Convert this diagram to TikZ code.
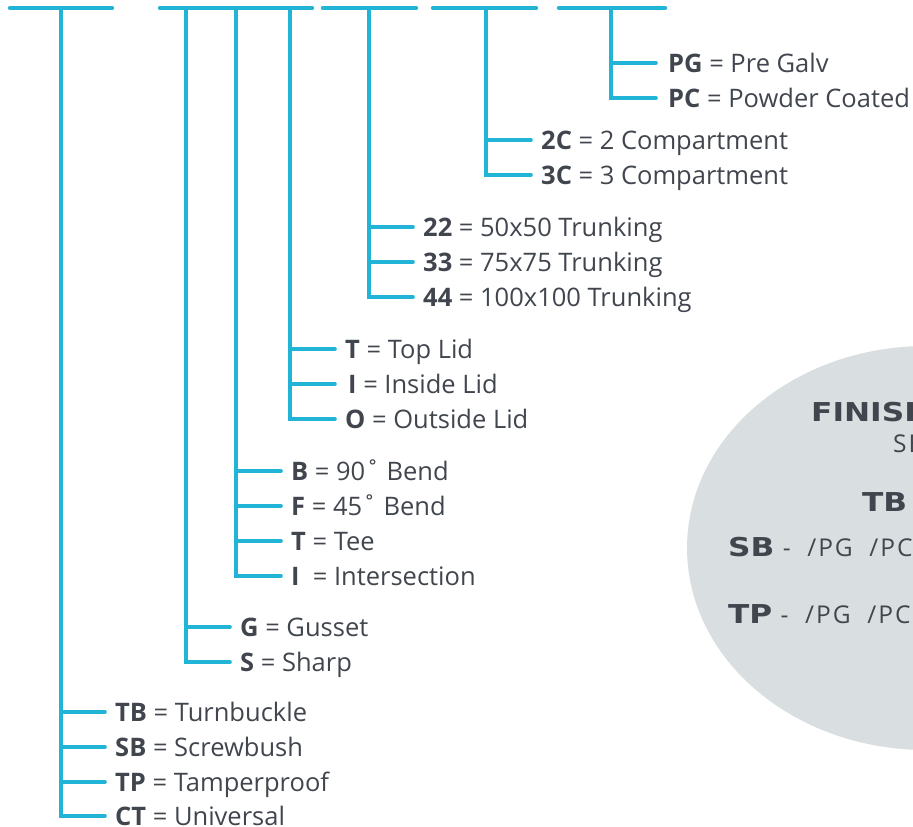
\documentclass[tikz,border=0pt]{standalone}
\usepackage{fontspec}
\setmainfont{Open Sans}
\newfontfamily\headfont[FakeStretch=1.2]{DejaVu Sans}
\definecolor{trunkblue}{HTML}{22B4D7}
\definecolor{labelgrey}{HTML}{41464E}
\definecolor{finishgrey}{HTML}{D9DFE0}
\newcommand\optfont{\normalfont\fontsize{24.5bp}{28bp}\selectfont\addfontfeature{LetterSpace=8}}

\begin{document}
\begin{tikzpicture}[x=1bp, y=-1bp,
            bar/.style    = {line width=4.4bp, trunkblue, line cap=round},
            branch/.style = {line width=3.6bp, trunkblue, line cap=round},
            code/.style   = {anchor=west, inner sep=0pt, text height=18.2bp, text depth=0pt,
                             text=labelgrey, font=\fontsize{25.5bp}{30bp}\selectfont},
            finish/.style = {anchor=west, inner sep=0pt, text height=19bp, text depth=0pt,
                             text=labelgrey, font=\headfont\bfseries\fontsize{26bp}{30bp}\selectfont}
                        ]
            \useasboundingbox (0,0) rectangle (913,827);
            % finish panel
            \fill[finishgrey] (926,548) ellipse [x radius=239, y radius=202];
            \node[finish] (fin) at (811,412) {FINISH};
            \node[code, font=\optfont] (see) at (893,443) {SE};
            \node[finish] (tbf) at (862,502) {TB};
            \node[finish] (sbf) at (728,547) {SB\optfont\ -\ \ /PG\ \ /PC};
            \node[finish] (tpf) at (728,614) {TP\optfont\ -\ \ /PG\ \ /PC};
            % code bars
            \draw[bar] (10,8) -- (112,8);
            \draw[bar] (160,8) -- (312,8);
            \draw[bar] (323,8) -- (416,8);
            \draw[bar] (433,8) -- (536,8);
            \draw[bar] (559,8) -- (665,8);
            \coordinate (type)    at (61,8);
            \coordinate (corner)  at (186,8);
            \coordinate (fitting) at (236,8);
            \coordinate (lid)     at (290,8);
            \coordinate (size)    at (369,8);
            \coordinate (comp)    at (486,8);
            \coordinate (coat)    at (611,8);
            % options
            \node[code] (tb) at (115,712) {\textbf{TB} = Turnbuckle};
            \node[code] (sb) at (115,747) {\textbf{SB} = Screwbush};
            \node[code] (tp) at (115,782) {\textbf{TP} = Tamperproof};
            \node[code] (ct) at (115,816) {\textbf{CT} = Universal};
            \node[code] (g)  at (240,627) {\textbf{G} = Gusset};
            \node[code] (s)  at (240,662) {\textbf{S} = Sharp};
            \node[code] (b)  at (291,471) {\textbf{B} = 90˚ Bend};
            \node[code] (f)  at (291,506) {\textbf{F} = 45˚ Bend};
            \node[code] (t)  at (291,541) {\textbf{T} = Tee};
            \node[code] (i)  at (291,576) {\textbf{I}\ \ = Intersection};
            \node[code] (tl) at (345,349) {\textbf{T} = Top Lid};
            \node[code] (il) at (348,384) {\textbf{I} = Inside Lid};
            \node[code] (ol) at (345,419) {\textbf{O} = Outside Lid};
            \node[code] (s22) at (423,227) {\textbf{22} = 50x50 Trunking};
            \node[code] (s33) at (423,262) {\textbf{33} = 75x75 Trunking};
            \node[code] (s44) at (423,297) {\textbf{44} = 100x100 Trunking};
            \node[code] (c2) at (541,140) {\textbf{2C} = 2 Compartment};
            \node[code] (c3) at (541,175) {\textbf{3C} = 3 Compartment};
            \node[code] (pg) at (668,63) {\textbf{PG} = Pre Galv};
            \node[code] (pc) at (668,98) {\textbf{PC} = Powder Coated};
            % tree
            \draw[branch] (type) |- ([xshift=-10bp]ct.west)
                          (type |- tb.west) -- ([xshift=-10bp]tb.west)
                          (type |- sb.west) -- ([xshift=-10bp]sb.west)
                          (type |- tp.west) -- ([xshift=-10bp]tp.west);
            \draw[branch] (corner) |- ([xshift=-10bp]s.west)
                          (corner |- g.west) -- ([xshift=-10bp]g.west);
            \draw[branch] (fitting) |- ([xshift=-10bp]i.west)
                          (fitting |- b.west) -- ([xshift=-10bp]b.west)
                          (fitting |- f.west) -- ([xshift=-10bp]f.west)
                          (fitting |- t.west) -- ([xshift=-10bp]t.west);
            \draw[branch] (lid) |- ([xshift=-10bp]ol.west)
                          (lid |- tl.west) -- ([xshift=-10bp]tl.west)
                          (lid |- il.west) -- ([xshift=-13bp]il.west);
            \draw[branch] (size) |- ([xshift=-10bp]s44.west)
                          (size |- s22.west) -- ([xshift=-10bp]s22.west)
                          (size |- s33.west) -- ([xshift=-10bp]s33.west);
            \draw[branch] (comp) |- ([xshift=-10bp]c3.west)
                          (comp |- c2.west) -- ([xshift=-10bp]c2.west);
            \draw[branch] (coat) |- ([xshift=-12bp]pc.west)
                          (coat |- pg.west) -- ([xshift=-12bp]pg.west);
    \end{tikzpicture}
\end{document}
